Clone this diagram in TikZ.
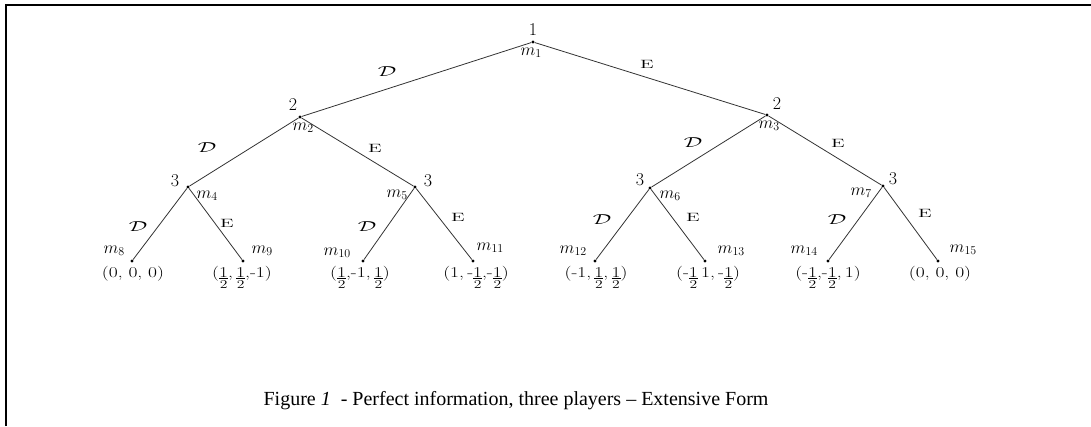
\documentclass[tikz,border=0pt]{standalone}
\usepackage{fontspec}
\usepackage{graphicx}
\newfontfamily\capfont{Liberation Serif}
\newcommand{\mm}[1]{$m$\raisebox{-2.5pt}{\fontsize{12}{12}\selectfont #1}}
\newcommand{\hf}{\vtop{\baselineskip=11pt\halign{\hfil##\hfil\cr\underline{1}\cr\fontsize{12}{12}\selectfont 2\cr}}}
\newcommand{\Dlab}{\scalebox{1.6}[1]{\fontsize{14}{14}\selectfont$\mathcal{D}$}}
\newcommand{\Elab}{\scalebox{1.7}[1]{E}}
\begin{document}
\begin{tikzpicture}[x=1pt,y=-1pt,
  dot/.style={circle,fill=black,inner sep=0pt,minimum size=3.2pt},
  branch/.style={draw=black!80,line width=0.8pt},
  player/.style={inner sep=0pt,font=\fontsize{18}{20}\selectfont},
  mlab/.style={inner sep=0pt,font=\fontsize{16}{18}\selectfont},
  act/.style={inner sep=0pt,font=\fontsize{12}{14}\selectfont},
  pay/.style={inner sep=0pt,anchor=base,font=\fontsize{15}{17}\selectfont},
  frame/.style={line width=2pt}]
\useasboundingbox (0,0) rectangle (1091,426);
\draw[frame] (6,426) -- (6,5) -- (1091,5);
% decision nodes
\node[dot] (n1) at (533,42) {};
\node[dot] (n2) at (300,117) {};
\node[dot] (n3) at (767,115) {};
\node[dot] (n4) at (188,187) {};
\node[dot] (n5) at (415,187) {};
\node[dot] (n6) at (650,188) {};
\node[dot] (n7) at (883,186) {};
\node[dot] (n8) at (132,261) {};
\node[dot] (n9) at (243,261) {};
\node[dot] (n10) at (363,261) {};
\node[dot] (n11) at (473,261) {};
\node[dot] (n12) at (595,261) {};
\node[dot] (n13) at (705,261) {};
\node[dot] (n14) at (828,261) {};
\node[dot] (n15) at (938,261) {};
% branches
\draw[branch] (n1) -- (n2);
\draw[branch] (n1) -- (n3);
\draw[branch] (n2) -- (n4);
\draw[branch] (n2) -- (n5);
\draw[branch] (n3) -- (n6);
\draw[branch] (n3) -- (n7);
\draw[branch] (n4) -- (n8);
\draw[branch] (n4) -- (n9);
\draw[branch] (n5) -- (n10);
\draw[branch] (n5) -- (n11);
\draw[branch] (n6) -- (n12);
\draw[branch] (n6) -- (n13);
\draw[branch] (n7) -- (n14);
\draw[branch] (n7) -- (n15);
% players
\node[player] (p1) at (533,30) {1};
\node[player] (p2) at (293,105) {2};
\node[player] (p3) at (777,104) {2};
\node[player] (p4) at (175,181) {3};
\node[player] (p5) at (428,181) {3};
\node[player] (p6) at (640,180) {3};
\node[player] (p7) at (893,179) {3};
% node names
\node[mlab] (m1) at (531,53) {\mm{1}};
\node[mlab] (m2) at (303,128) {\mm{2}};
\node[mlab] (m3) at (769,126) {\mm{3}};
\node[mlab] (m4) at (207,196) {\mm{4}};
\node[mlab] (m5) at (397,195) {\mm{5}};
\node[mlab] (m6) at (670,196) {\mm{6}};
\node[mlab] (m7) at (861,193) {\mm{7}};
\node[mlab] (m8) at (114,251) {\mm{8}};
\node[mlab] (m9) at (262,251) {\mm{9}};
\node[mlab] (m10) at (337,253) {\mm{10}};
\node[mlab] (m11) at (490,248) {\mm{11}};
\node[mlab] (m12) at (573,251) {\mm{12}};
\node[mlab] (m13) at (731,251) {\mm{13}};
\node[mlab] (m14) at (804,251) {\mm{14}};
\node[mlab] (m15) at (963,250) {\mm{15}};
% actions
\node[act] (a1) at (387,72) {\Dlab};
\node[act] (a2) at (647,64) {\Elab};
\node[act] (a3) at (207,148) {\Dlab};
\node[act] (a4) at (375,148) {\Elab};
\node[act] (a5) at (693,143) {\Dlab};
\node[act] (a6) at (838,143) {\Elab};
\node[act] (a7) at (138,227) {\Dlab};
\node[act] (a8) at (227,223) {\Elab};
\node[act] (a9) at (367,227) {\Dlab};
\node[act] (a10) at (458,217) {\Elab};
\node[act] (a11) at (602,220) {\Dlab};
\node[act] (a12) at (693,217) {\Elab};
\node[act] (a13) at (837,220) {\Dlab};
\node[act] (a14) at (925,213) {\Elab};
% payoffs
\node[pay] (u8) at (133,277) {\scalebox{1.3}[1]{(0, 0, 0)}};
\node[pay] (u9) at (242,277) {\scalebox{1.3}[1]{(\hf,\,\hf,-1)}};
\node[pay] (u10) at (360,277) {\scalebox{1.3}[1]{(\hf,-1,\,\hf)}};
\node[pay] (u11) at (476,277) {\scalebox{1.3}[1]{(1,\,-\hf,-\hf)}};
\node[pay] (u12) at (596,277) {\scalebox{1.3}[1]{(-1,\,\hf,\,\hf)}};
\node[pay] (u13) at (708,277) {\scalebox{1.3}[1]{(-\hf\,1,\,-\hf)}};
\node[pay] (u14) at (828,277) {\scalebox{1.3}[1]{(-\hf,-\hf,\,1)}};
\node[pay] (u15) at (940,277) {\scalebox{1.3}[1]{(0, 0, 0)}};
% caption
\node[inner sep=0pt,font=\capfont\fontsize{20}{24}\selectfont] (cap) at (516,401)
  {Figure \textit{1} \ - Perfect information, three players – Extensive Form};
\end{tikzpicture}
\end{document}
